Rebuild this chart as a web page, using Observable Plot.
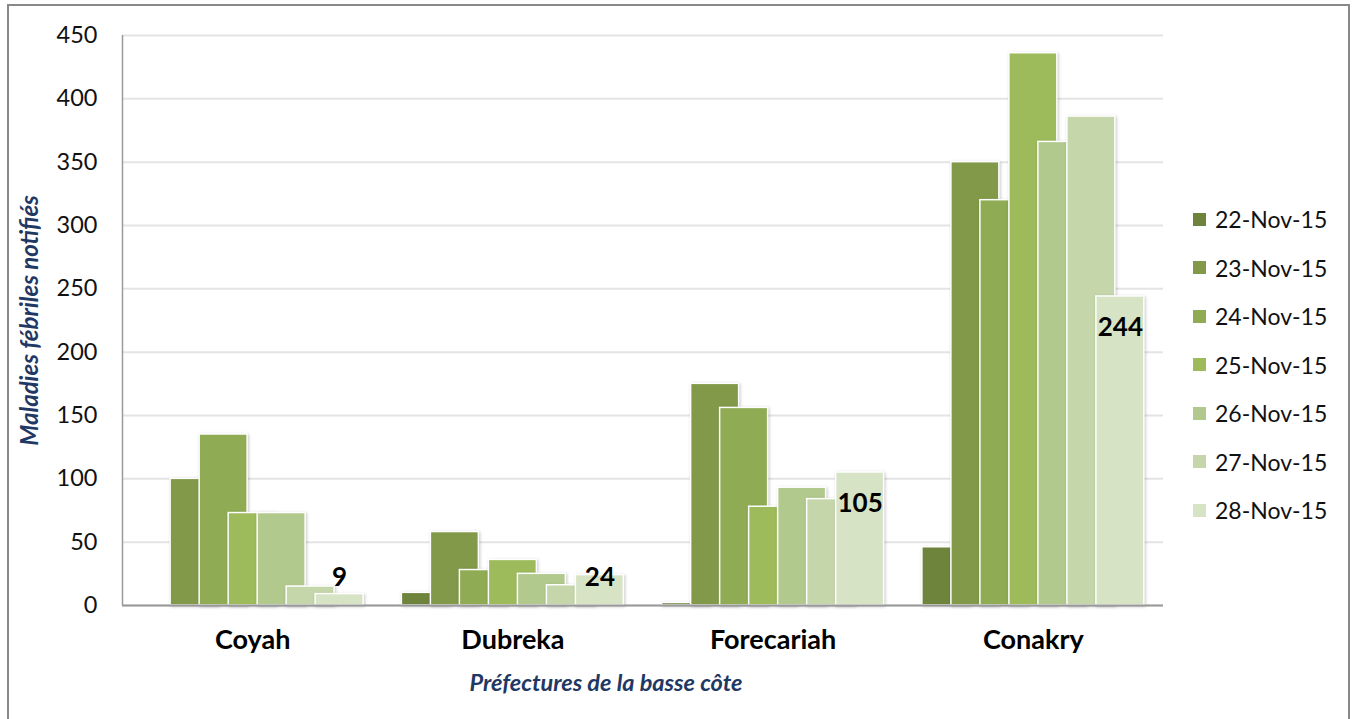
<!DOCTYPE html>
<html>
<head>
<meta charset="utf-8">
<script src="https://cdn.jsdelivr.net/npm/d3@7"></script>
<script src="https://cdn.jsdelivr.net/npm/@observablehq/plot@0.6"></script>
<style>
  html, body { margin: 0; padding: 0; background: #fff; }
  #wrap { position: relative; width: 1355px; height: 719px; overflow: hidden; font-family: Lato, sans-serif; }
  #frame { position: absolute; left: 7px; top: 4px; width: 1343px; height: 740px; border: 2px solid #898989; box-sizing: border-box; pointer-events: none; }
  #chart { position: absolute; left: 0; top: 0; }
  #legend { position: absolute; left: 1193px; top: 195px; }
  .lg-row { display: flex; align-items: center; height: 48.5px; }
  .lg-sw { width: 13px; height: 13px; margin-right: 9px; }
  .lg-tx { font-family: Lato, sans-serif; font-size: 23px; color: #111; }
  .bars rect { filter: drop-shadow(1.5px 1px 1.5px rgba(0,0,0,0.22)); }
</style>
</head>
<body>
<div id="wrap">
  <div id="chart"></div>
  <div id="legend"></div>
  <div id="frame"></div>
</div>
<script>
const categories = ["Coyah", "Dubreka", "Forecariah", "Conakry"];
const dates = ["22-Nov-15", "23-Nov-15", "24-Nov-15", "25-Nov-15", "26-Nov-15", "27-Nov-15", "28-Nov-15"];
const coyah      = [0, 100, 135, 73, 73, 15, 9];
const dubreka    = [10, 58, 28, 36, 25, 16, 24];
const forecariah = [2, 175, 156, 78, 93, 84, 105];
const conakry    = [46, 350, 320, 436, 366, 386, 244];
const colors = ["#6e843d", "#82994a", "#8fab53", "#9dbb5a", "#b1c98d", "#c5d6aa", "#d7e3c5"];
const yTicks = [0, 50, 100, 150, 200, 250, 300, 350, 400, 450];
const labeledDate = "28-Nov-15";
const yTitle = "Maladies fébriles notifiés";
const xTitle = "Préfectures de la basse côte";

const seriesByCategory = [coyah, dubreka, forecariah, conakry];

// layout
const W = 1355, H = 719;
const mL = 122, mR = 192, mT = 35, mB = 114;
const bandPx = (W - mL - mR) / categories.length;
const stepPx = 29, barPx = 48;
const groupPx = stepPx * (dates.length - 1) + barPx;

const rows = [];
dates.forEach((date, j) => {
  categories.forEach((cat, i) => {
    const off = (-groupPx / 2 + j * stepPx) / bandPx;
    rows.push({
      cat, date, j, i,
      value: seriesByCategory[i][j],
      x1: i + 0.5 + off,
      x2: i + 0.5 + off + barPx / bandPx,
      color: colors[j]
    });
  });
});
const labelRows = rows.filter(d => d.date === labeledDate);
const pxPerUnit = (H - mT - mB) / (yTicks[yTicks.length - 1] - yTicks[0]);

const plot = Plot.plot({
  width: W, height: H,
  marginLeft: mL, marginRight: mR, marginTop: mT, marginBottom: mB,
  style: { fontFamily: "Lato, sans-serif", fontSize: "23px", color: "#111", background: "transparent" },
  x: { type: "linear", domain: [0, categories.length], axis: null },
  y: { domain: [0, 450], axis: null },
  color: { type: "identity" },
  marks: [
    Plot.gridY(yTicks, { stroke: "#e4e4e4", strokeOpacity: 1, strokeWidth: 2 }),
    Plot.axisY(yTicks, { tickSize: 0, tickPadding: 25, fontSize: 23.5, fill: "#111", label: null }),
    Plot.ruleX([0], { stroke: "#9a9a9a", strokeWidth: 1.5 }),
    Plot.rectY(rows, { x1: "x1", x2: "x2", y1: 0, y2: "value", fill: "color", stroke: "white", strokeWidth: 1.5, className: "bars" }),
    Plot.ruleY([0], { stroke: "#999", strokeWidth: 2 }),
    Plot.text(labelRows, {
      x: d => (d.x1 + d.x2) / 2,
      y: d => Math.max(d.value - 31 / pxPerUnit, 28 / pxPerUnit),
      text: d => String(d.value),
      fontSize: 26, fontWeight: "bold", fill: "#000"
    }),
    Plot.text(categories, {
      x: (d, i) => i + 0.5, frameAnchor: "bottom", dy: 43,
      text: d => d, fontSize: 27, fontWeight: "bold", fill: "#000"
    }),
    Plot.text([xTitle], {
      frameAnchor: "bottom", textAnchor: "middle", dx: -37, dy: 85,
      fontSize: 23.5, fontWeight: "bold", fontStyle: "italic", fill: "#1f3864"
    }),
    Plot.text([yTitle], {
      frameAnchor: "left", textAnchor: "middle", dx: -92, rotate: -90,
      fontSize: 24, fontWeight: "bold", fontStyle: "italic", fill: "#1f3864"
    })
  ]
});
document.getElementById("chart").appendChild(plot);

const legend = document.getElementById("legend");
dates.forEach((d, j) => {
  const row = document.createElement("div");
  row.className = "lg-row";
  const sw = document.createElement("div");
  sw.className = "lg-sw";
  sw.style.background = colors[j];
  const tx = document.createElement("div");
  tx.className = "lg-tx";
  tx.textContent = d;
  row.appendChild(sw); row.appendChild(tx);
  legend.appendChild(row);
});
</script>
</body>
</html>
